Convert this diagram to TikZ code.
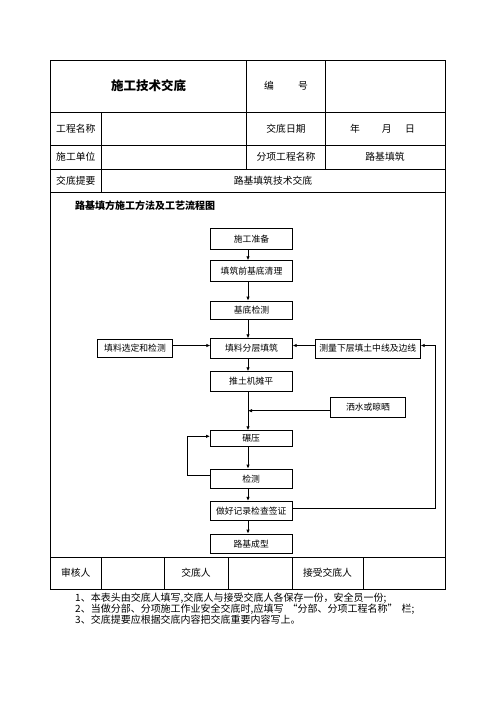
\documentclass[tikz,border=0pt]{standalone}
\usepackage{fontspec}
\setmainfont{Noto Sans CJK SC}
\usetikzlibrary{arrows.meta}
\begin{document}
\begin{tikzpicture}[x=1pt,y=-1pt,
  tline/.style={line width=0.9pt,black},
  cell/.style={inner sep=0pt,font=\fontsize{9.8}{10}\selectfont},
  fbox/.style={draw,line width=0.8pt,inner sep=0pt,minimum width=81.6pt,font=\fontsize{8.8}{9}\selectfont},
  arr/.style={line width=0.8pt,-{Latex[length=4pt,width=3.5pt]}},
  note/.style={inner sep=0pt,anchor=west,font=\fontsize{10}{10}\selectfont}]
\useasboundingbox (0,0) rectangle (496,702);
% table frame
\draw[tline] (50.5,60.5) rectangle (445,589);
\foreach \y in {112.5,145,169,192,557} \draw[tline] (50.5,\y) -- (445,\y);
\draw[tline] (246.7,60.5) -- (246.7,169);
\draw[tline] (325.3,60.5) -- (325.3,169);
\draw[tline] (101,112.5) -- (101,192);
\foreach \x in {101,164,228,292,363} \draw[tline] (\x,557) -- (\x,589);
% table texts
\node[cell,font=\fontsize{12.5}{13}\selectfont\bfseries] (t1) at (148.5,86) {施工技术交底};
\node[cell] (t2) at (269,86) {编};
\node[cell] (t3) at (303,86) {号};
\node[cell] (t4) at (75.8,129) {工程名称};
\node[cell] (t5) at (286,129) {交底日期};
\node[cell] (t6) at (355,129) {年};
\node[cell] (t7) at (386.7,129) {月};
\node[cell] (t8) at (410,129) {日};
\node[cell] (t9) at (75.8,157) {施工单位};
\node[cell] (t10) at (286,157) {分项工程名称};
\node[cell] (t11) at (385,157) {路基填筑};
\node[cell] (t12) at (75.8,180.5) {交底提要};
\node[cell] (t13) at (273,180.5) {路基填筑技术交底};
\node[cell] (t14) at (75.8,573) {审核人};
\node[cell] (t15) at (196,573) {交底人};
\node[cell] (t16) at (327.5,573) {接受交底人};
% flow title
\node[inner sep=0pt,anchor=west,font=\fontsize{10}{10}\selectfont\bfseries] (ft) at (75,205.7) {路基填方施工方法及工艺流程图};
% flow boxes
\node[fbox,minimum height=21pt] (A) at (251.5,238.8) {施工准备};
\node[fbox,minimum height=20.3pt] (B) at (251.5,270.8) {填筑前基底清理};
\node[fbox,minimum height=18.3pt] (C) at (251.5,310.2) {基底检测};
\node[fbox,minimum height=19.6pt] (D) at (251.5,348.5) {填料分层填筑};
\node[fbox,minimum height=18.4pt,minimum width=75.4pt] (L) at (135,348.5) {填料选定和检测};
\node[fbox,minimum height=19pt,minimum width=105pt] (R) at (367.8,348.5) {测量下层填土中线及边线};
\node[fbox,minimum height=19.3pt] (E) at (251.2,381.3) {推土机摊平};
\node[fbox,minimum height=20pt,minimum width=75.4pt] (W) at (368,407.3) {洒水或晾晒};
\node[fbox,minimum height=15.3pt] (F) at (251.2,438.3) {碾压};
\node[fbox,minimum height=19.3pt] (G) at (251.2,478.7) {检测};
\node[fbox,minimum height=19.4pt] (H) at (251.2,511) {做好记录检查签证};
\node[fbox,minimum height=19.3pt] (I) at (251.2,543.7) {路基成型};
% connectors
\coordinate (mx) at (248,0);
\coordinate (lx) at (187.7,0);
\coordinate (rx) at (435.7,0);
\draw[arr] (A.south -| mx) -- (B.north -| mx);
\draw[arr] (B.south -| mx) -- (C.north -| mx);
\draw[arr] (C.south -| mx) -- (D.north -| mx);
\draw[arr] (D.south -| mx) -- (E.north -| mx);
\draw[arr] (E.south -| mx) -- (F.north -| mx);
\draw[arr] (F.south -| mx) -- (G.north -| mx);
\draw[arr] (G.south -| mx) -- (H.north -| mx);
\draw[arr] (H.south -| mx) -- (I.north -| mx);
\draw[arr] ([yshift=3pt]L.east) -- ([yshift=3pt]L.east -| D.west);
\draw[arr] ([yshift=3pt]R.west) -- ([yshift=3pt]R.west -| D.east);
\draw[arr] ([yshift=-3.4pt]W.west) -- ([yshift=-3.4pt]W.west -| mx);
\draw[arr] ([yshift=3pt]G.west) -- ([yshift=3pt]G.west -| lx) -- ([yshift=2pt]F.west -| lx) -- ([yshift=2pt]F.west);
\draw[arr] ([yshift=3pt]H.east) -- ([yshift=3pt]H.east -| rx) -- ([yshift=3pt]R.east -| rx) -- ([yshift=3pt]R.east);
% notes
\node[note] (n1) at (75,598) {1、本表头由交底人填写,交底人与接受交底人各保存一份，安全员一份;};
\node[note] (n2) at (75,609) {2、当做分部、分项施工作业安全交底时,应填写\hspace{0.4em}“分部、分项工程名称”\hspace{0.4em}栏;};
\node[note] (n3) at (75,619.5) {3、交底提要应根据交底内容把交底重要内容写上。};
\end{tikzpicture}
\end{document}
